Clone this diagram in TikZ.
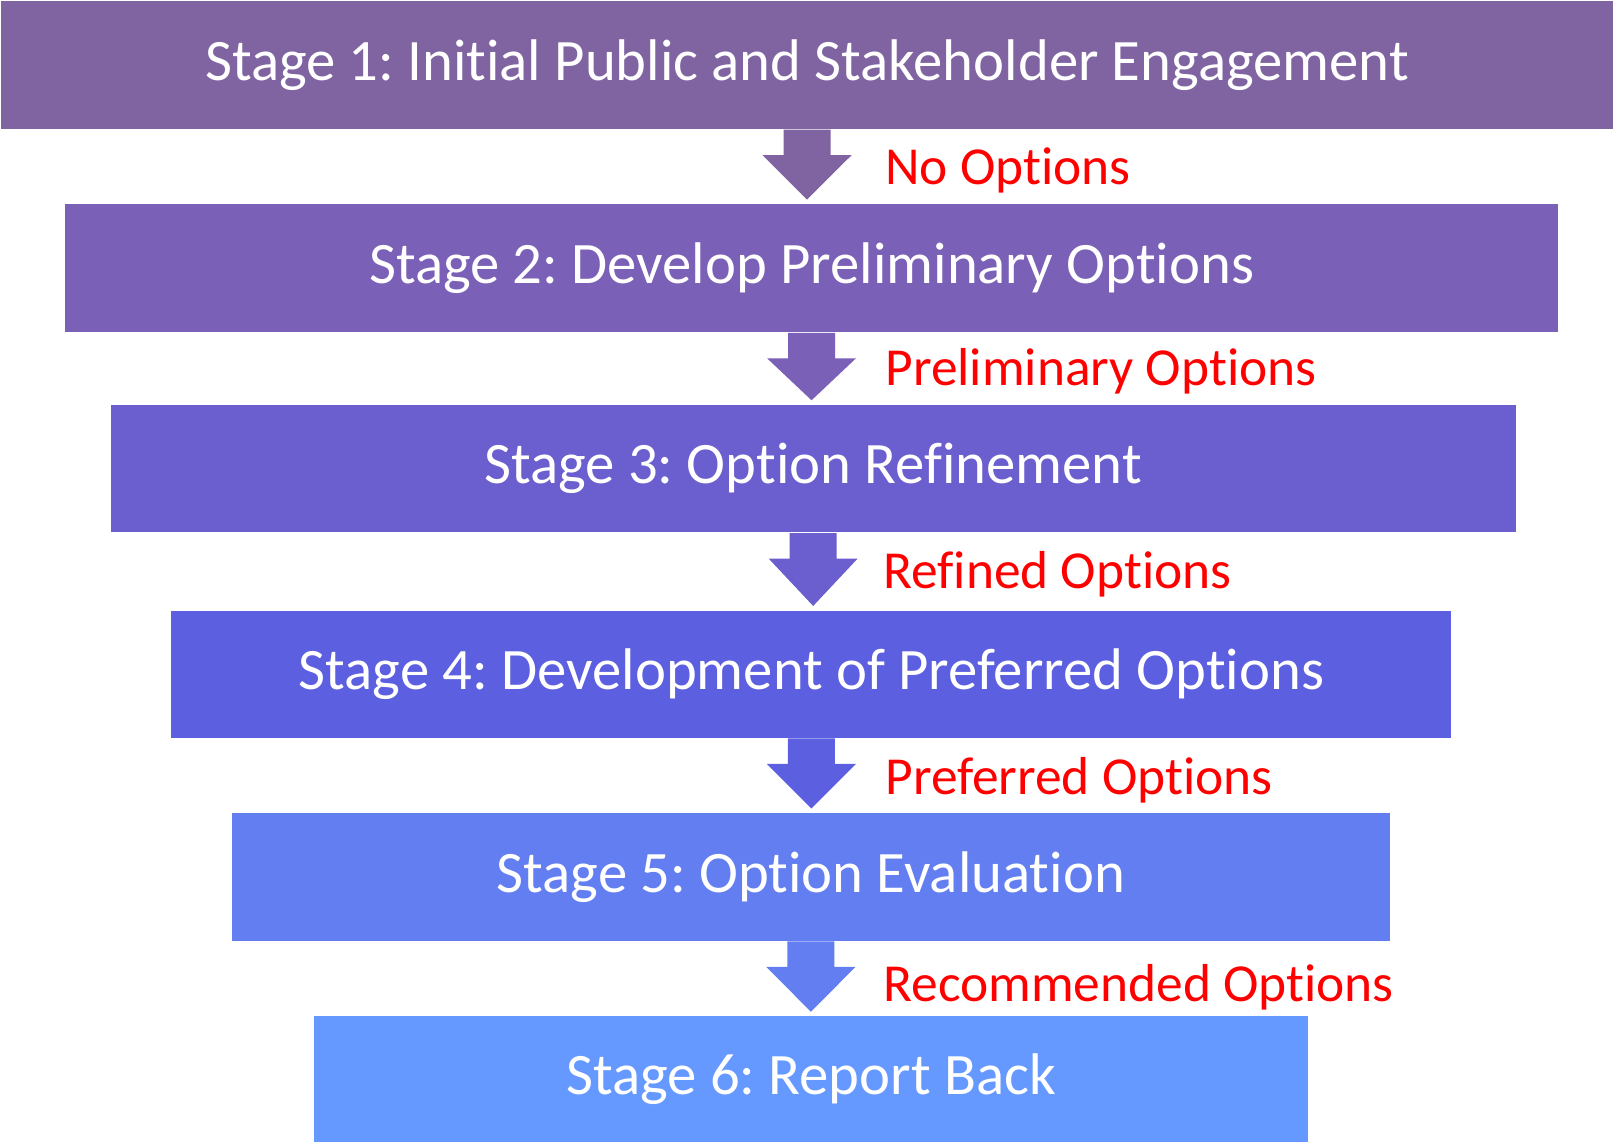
\documentclass[tikz,border=0pt]{standalone}
\usepackage{fontspec}
\setmainfont{Carlito}[Ligatures={NoCommon}]
\usetikzlibrary{calc}
\definecolor{c1}{HTML}{8064A2}
\definecolor{c2}{HTML}{7A60B6}
\definecolor{c3}{HTML}{6B5ECE}
\definecolor{c4}{HTML}{5C5FE0}
\definecolor{c5}{HTML}{637EF0}
\definecolor{c6}{HTML}{6699FF}
\definecolor{lblred}{HTML}{FF0000}
\newcommand{\blockarrow}[3]{%
  \fill[#3] ($(#1.south)+(-23.5,0)$) -- ($(#1.south)+(-23.5,25.5)$) -- ($(#1.south)+(-44.5,25.5)$)
    -- ($(#1.south |- #2.north)+(0,-4)$)
    -- ($(#1.south)+(44.5,25.5)$) -- ($(#1.south)+(23.5,25.5)$) -- ($(#1.south)+(23.5,0)$) -- cycle;}
\begin{document}
\frenchspacing
\begin{tikzpicture}[x=0.01cm,y=-0.01cm,
  box/.style={rectangle,inner sep=0pt,text=white,font=\fontsize{16.7}{20}\selectfont},
  lbl/.style={anchor=west,inner sep=0pt,text=lblred,font=\fontsize{15.2}{18}\selectfont}]
\useasboundingbox (0,0) rectangle (1613,1142);
\node[box,fill=c1,minimum width=16.12cm,minimum height=1.28cm] (b1) at (807,65) {\raisebox{-2.5pt}{Stage 1: Initial Public and Stakeholder Engagement}};
\node[box,fill=c2,minimum width=14.915cm,minimum height=1.277cm] (b2) at (811.55,268.15) {\raisebox{-2.5pt}{Stage 2: Develop Preliminary Options}};
\node[box,fill=c3,minimum width=14.043cm,minimum height=1.273cm] (b3) at (813.15,468.65) {\raisebox{-2.5pt}{Stage 3: Option Refinement}};
\node[box,fill=c4,minimum width=12.792cm,minimum height=1.27cm] (b4) at (811.4,674.2) {\raisebox{-2.5pt}{Stage 4: Development of Preferred Options}};
\node[box,fill=c5,minimum width=11.578cm,minimum height=1.274cm] (b5) at (810.9,877) {\raisebox{-2.5pt}{Stage 5: Option Evaluation}};
\node[box,fill=c6,minimum width=9.934cm,minimum height=1.255cm] (b6) at (811,1079.25) {\raisebox{-2.5pt}{Stage 6: Report Back}};
\blockarrow{b1}{b2}{c1}
\blockarrow{b2}{b3}{c2}
\blockarrow{b3}{b4}{c3}
\blockarrow{b4}{b5}{c4}
\blockarrow{b5}{b6}{c5}
\node[lbl] (l1) at (884.7,170) {No Options};
\node[lbl] (l2) at (884.7,371.5) {Preliminary Options};
\node[lbl] (l3) at (882.6,574.5) {Refined Options};
\node[lbl] (l4) at (884.7,780) {Preferred Options};
\node[lbl] (l5) at (882.6,987) {Recommended Options};
\end{tikzpicture}
\end{document}
